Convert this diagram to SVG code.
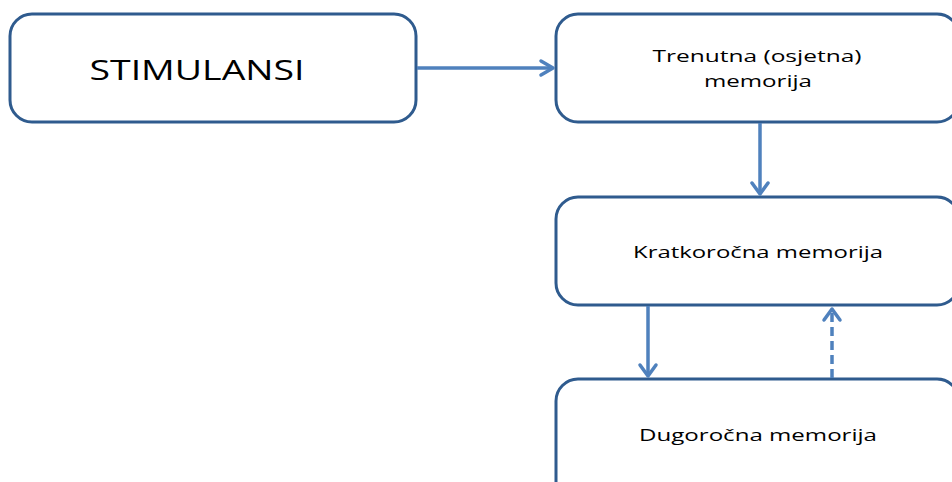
<svg xmlns="http://www.w3.org/2000/svg" width="952" height="482" viewBox="0 0 952 482">
<style>
.box{fill:#fff;stroke:#2F5B8E;stroke-width:3}
.t{font-family:"Open Sans","Liberation Sans",sans-serif;fill:#000;text-anchor:middle}
.c{stroke:#4F81BD;stroke-width:3.5;fill:none}
.h{stroke:#4F81BD;stroke-width:3.5;fill:none;stroke-linecap:round;stroke-linejoin:round}
</style>
<rect width="952" height="482" fill="#fff"/>
<g id="stimulansi">
<rect class="box" x="10" y="14" width="406" height="108" rx="22"/>
<text class="t" x="197" y="80" font-size="28" textLength="215" lengthAdjust="spacingAndGlyphs">STIMULANSI</text>
</g>
<g id="trenutna">
<rect class="box" x="556" y="14" width="403" height="108" rx="22"/>
<text class="t" x="757" y="62" font-size="17" textLength="209" lengthAdjust="spacingAndGlyphs">Trenutna (osjetna)</text>
<text class="t" x="758" y="87" font-size="17" textLength="108" lengthAdjust="spacingAndGlyphs">memorija</text>
</g>
<g id="kratkorocna">
<rect class="box" x="556" y="197" width="403" height="108" rx="22"/>
<text class="t" x="758" y="258" font-size="17" textLength="250" lengthAdjust="spacingAndGlyphs">Kratkoročna memorija</text>
</g>
<g id="dugorocna">
<rect class="box" x="556" y="379" width="403" height="130" rx="22"/>
<text class="t" x="758" y="441" font-size="17" textLength="238" lengthAdjust="spacingAndGlyphs">Dugoročna memorija</text>
</g>
<g id="connectors">
<line class="c" x1="417" y1="68" x2="553" y2="68"/>
<polyline class="h" points="541,61 553,68 541,75"/>
<line class="c" x1="760" y1="123" x2="760" y2="194"/>
<polyline class="h" points="752,183 760,194 768,183"/>
<line class="c" x1="648" y1="306" x2="648" y2="376"/>
<polyline class="h" points="640,365 648,376 656,365"/>
<line class="c" x1="832" y1="378" x2="832" y2="309" stroke-dasharray="9,5"/>
<polyline class="h" points="824,320 832,309 840,320"/>
</g>
</svg>
